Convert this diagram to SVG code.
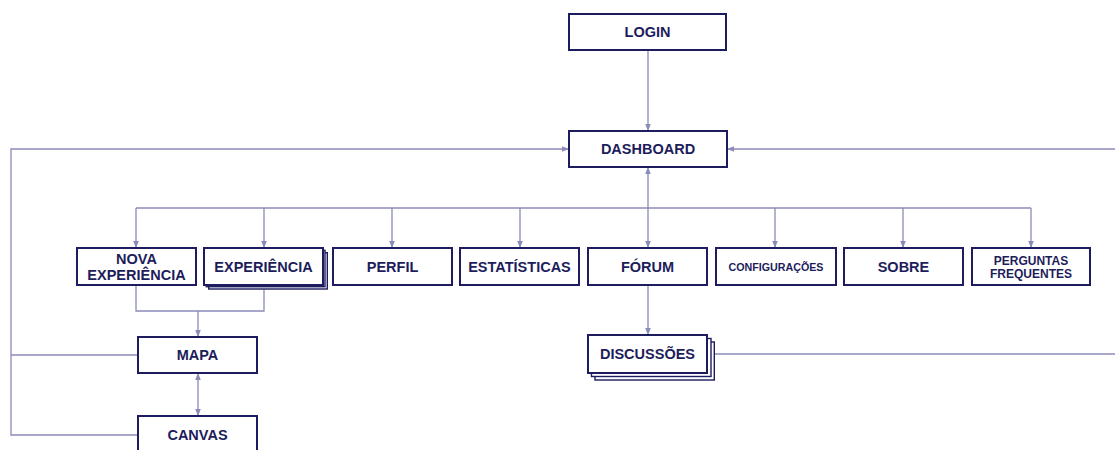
<svg xmlns="http://www.w3.org/2000/svg" width="1115" height="450" viewBox="0 0 1115 450">
  <defs>
    <style>
      .box { fill: #ffffff; stroke: #1c1c5e; stroke-width: 2; }
      .shadow { fill: #ffffff; stroke: #1c1c5e; stroke-width: 1.4; }
      .lbl { font-family: "Liberation Sans", Arial, sans-serif; font-weight: bold; fill: #1d1d5b; text-anchor: middle; font-size: 14.5px; }
      .sm { font-size: 12px; }
      .xs { font-size: 10.7px; }
      .wire { fill: none; stroke: #8b8bb9; stroke-width: 1.3; }
    </style>
    <marker id="arrow" viewBox="0 0 10 10" refX="10" refY="5" markerWidth="7" markerHeight="7" orient="auto-start-reverse" markerUnits="userSpaceOnUse">
      <path d="M0,1 L10,5 L0,9 Z" fill="#8b8bb9"/>
    </marker>
  </defs>
  <rect width="1115" height="450" fill="#ffffff"/>

  <!-- connectors -->
  <g id="connectors">
    <line class="wire" x1="648" y1="50" x2="648" y2="131" marker-end="url(#arrow)"/>
    <polyline class="wire" points="138,435 11,435 11,149 569,149" marker-end="url(#arrow)"/>
    <line class="wire" x1="11" y1="355" x2="138" y2="355"/>
    <line class="wire" x1="1115" y1="149" x2="727" y2="149" marker-end="url(#arrow)"/>
    <line class="wire" x1="707" y1="354" x2="1115" y2="354"/>
    <line class="wire" x1="648" y1="167" x2="648" y2="248" marker-start="url(#arrow)" marker-end="url(#arrow)"/>
    <line class="wire" x1="136" y1="208" x2="1031" y2="208"/>
    <line class="wire" x1="136" y1="208" x2="136" y2="248" marker-end="url(#arrow)"/>
    <line class="wire" x1="264" y1="208" x2="264" y2="248" marker-end="url(#arrow)"/>
    <line class="wire" x1="392" y1="208" x2="392" y2="248" marker-end="url(#arrow)"/>
    <line class="wire" x1="520" y1="208" x2="520" y2="248" marker-end="url(#arrow)"/>
    <line class="wire" x1="775" y1="208" x2="775" y2="248" marker-end="url(#arrow)"/>
    <line class="wire" x1="903" y1="208" x2="903" y2="248" marker-end="url(#arrow)"/>
    <line class="wire" x1="1031" y1="208" x2="1031" y2="248" marker-end="url(#arrow)"/>
    <polyline class="wire" points="136,285 136,311 264,311 264,285"/>
    <line class="wire" x1="198" y1="311" x2="198" y2="337" marker-end="url(#arrow)"/>
    <line class="wire" x1="198" y1="373" x2="198" y2="416" marker-start="url(#arrow)" marker-end="url(#arrow)"/>
    <line class="wire" x1="648" y1="285" x2="648" y2="335" marker-end="url(#arrow)"/>
  </g>

  <g id="login">
    <rect class="box" x="569" y="14" width="157" height="36"/>
    <text class="lbl" x="647.5" y="37">LOGIN</text>
  </g>
  <g id="dashboard">
    <rect class="box" x="569" y="131" width="158" height="36"/>
    <text class="lbl" x="648" y="154">DASHBOARD</text>
  </g>
  <g id="nova-experiencia">
    <rect class="box" x="77" y="248" width="119" height="37"/>
    <text class="lbl" x="136.5" y="264">NOVA</text>
    <text class="lbl" x="136.5" y="280">EXPERIÊNCIA</text>
  </g>
  <g id="experiencia">
    <rect class="shadow" x="208.7" y="252.7" width="118.6" height="36.3"/>
    <rect class="shadow" x="206.3" y="250.3" width="118.7" height="36.4"/>
    <rect class="box" x="204" y="248" width="119" height="37"/>
    <text class="lbl" x="263.5" y="272">EXPERIÊNCIA</text>
  </g>
  <g id="perfil">
    <rect class="box" x="333" y="248" width="119" height="37"/>
    <text class="lbl" x="392.5" y="272">PERFIL</text>
  </g>
  <g id="estatisticas">
    <rect class="box" x="460" y="248" width="119" height="37"/>
    <text class="lbl" x="519.5" y="272">ESTATÍSTICAS</text>
  </g>
  <g id="forum">
    <rect class="box" x="588" y="248" width="119" height="37"/>
    <text class="lbl" x="647.5" y="272">FÓRUM</text>
  </g>
  <g id="configuracoes">
    <rect class="box" x="716" y="248" width="120" height="37"/>
    <text class="lbl xs" x="776" y="270.5">CONFIGURAÇÕES</text>
  </g>
  <g id="sobre">
    <rect class="box" x="844" y="248" width="119" height="37"/>
    <text class="lbl" x="903.5" y="272">SOBRE</text>
  </g>
  <g id="perguntas-frequentes">
    <rect class="box" x="972" y="248" width="118" height="37"/>
    <text class="lbl sm" x="1031" y="264.5">PERGUNTAS</text>
    <text class="lbl sm" x="1031" y="277.5">FREQUENTES</text>
  </g>
  <g id="mapa">
    <rect class="box" x="138" y="337" width="119" height="36"/>
    <text class="lbl" x="197.5" y="360">MAPA</text>
  </g>
  <g id="canvas">
    <rect class="box" x="138" y="416" width="119" height="40"/>
    <text class="lbl" x="197.5" y="440">CANVAS</text>
  </g>
  <g id="discussoes">
    <rect class="shadow" x="595" y="342" width="119.3" height="38"/>
    <rect class="shadow" x="591.5" y="338.5" width="119.5" height="38"/>
    <rect class="box" x="588" y="335" width="119" height="38"/>
    <text class="lbl" x="647.5" y="359">DISCUSSÕES</text>
  </g>
</svg>
